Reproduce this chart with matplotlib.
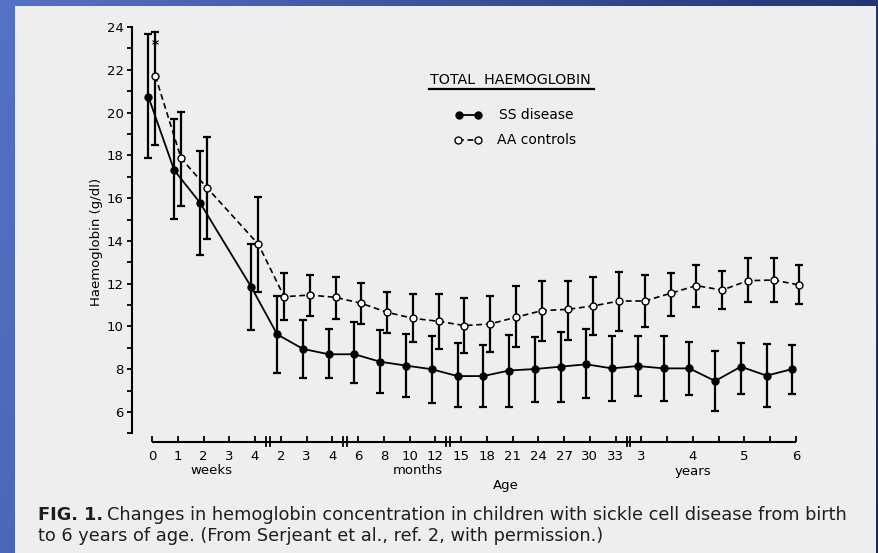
import numpy as np
import matplotlib
matplotlib.use("Agg")
import matplotlib.pyplot as plt
from matplotlib.patches import Rectangle
from matplotlib.lines import Line2D
from matplotlib.transforms import blended_transform_factory

# ---------------------------------------------------------------- data
# Age axis: one evenly spaced slot per tick (weeks, months, years)
age_tick_labels = ["0", "1", "2", "3", "4",
                   "2", "3", "4",
                   "6", "8", "10", "12",
                   "15", "18", "21", "24", "27", "30", "33",
                   "3", "", "4", "", "5", "", "6"]
age_unit_names = ["weeks", "months", "years"]
age_unit_slots = [2.3, 10.3, 21.0]
age_groups = [(0, 4), (5, 7), (8, 11), (12, 18), (19, 25)]

# slots at which both groups were sampled (no 3-week sample)
sample_slots = [0, 1, 2, 4, 5, 6, 7, 8, 9, 10, 11, 12, 13, 14, 15,
                16, 17, 18, 19, 20, 21, 22, 23, 24, 25]

# SS disease: mean and error-bar ends (g/dl)
ss_mean = [20.74, 17.31, 15.79, 11.83, 9.63, 8.95, 8.70, 8.70, 8.35, 8.17,
           8.00, 7.68, 7.68, 7.94, 8.01, 8.12, 8.23, 8.04, 8.15, 8.04,
           8.04, 7.45, 8.12, 7.70, 8.01]
ss_low = [17.86, 15.02, 13.34, 9.83, 7.81, 7.57, 7.57, 7.38, 6.88, 6.69,
          6.41, 6.25, 6.25, 6.25, 6.45, 6.48, 6.67, 6.53, 6.75, 6.51,
          6.80, 6.05, 6.84, 6.22, 6.84]
ss_high = [23.66, 19.70, 18.20, 13.84, 11.42, 10.30, 9.90, 10.19, 9.83, 9.63,
           9.55, 9.21, 9.13, 9.60, 9.49, 9.72, 9.88, 9.55, 9.55, 9.55,
           9.26, 8.87, 9.24, 9.18, 9.13]

# AA controls: mean and error-bar ends (g/dl)
aa_mean = [21.71, 17.86, 16.49, 13.84, 11.39, 11.47, 11.36, 11.08, 10.66, 10.38,
           10.24, 10.04, 10.12, 10.43, 10.74, 10.80, 10.96, 11.19, 11.19, 11.55,
           11.91, 11.70, 12.14, 12.17, 11.94]
aa_low = [18.48, 15.65, 14.09, 11.63, 10.30, 10.49, 10.35, 10.11, 9.68, 9.29,
          8.95, 8.74, 8.79, 9.03, 9.34, 9.37, 9.60, 9.79, 9.96, 10.50,
          10.89, 10.80, 11.16, 11.16, 11.05]
aa_high = [23.78, 20.01, 18.84, 16.04, 12.48, 12.41, 12.33, 12.05, 11.63, 11.50,
           11.50, 11.32, 11.44, 11.87, 12.13, 12.13, 12.30, 12.56, 12.41, 12.48,
           12.87, 12.61, 13.19, 13.19, 12.87]
aa_birth_star = 23.15  # value flagged with an asterisk at birth

y_major = list(range(6, 25, 2))
y_minor = list(range(5, 25, 2))

title_text = "TOTAL  HAEMOGLOBIN"
ss_label = "SS disease"
aa_label = "AA controls"
y_label = "Haemoglobin (g/dl)"
x_label = "Age"
caption_bold = "FIG. 1."
caption_1 = ("Changes in hemoglobin concentration in children with sickle "
             "cell disease from birth")
caption_2 = "to 6 years of age. (From Serjeant et al., ref. 2, with permission.)"

# ---------------------------------------------------------------- layout
W, H = 879, 553
fig = plt.figure(figsize=(W / 100, H / 100), dpi=100)


def fx(px):
    return px / W


def fy(py):
    return 1 - py / H


plt.rcParams["font.family"] = ["DejaVu Sans"]

# slide background with a blue gradient and the light page on top
bg = fig.add_axes([0, 0, 1, 1])
bg.set_zorder(-5)
gx = np.linspace(0, 1, 300)
gy = np.linspace(0, 1, 60)
GX, GY = np.meshgrid(gx, gy)
c_left = np.array([84, 114, 198]) / 255
c_right = np.array([26, 42, 100]) / 255
t = np.clip(GX * 0.85 + GY * 0.15, 0, 1)[..., None]
grad = c_left * (1 - t) + c_right * t
bg.imshow(grad, extent=[0, 1, 0, 1], aspect="auto", origin="upper")
bg.add_patch(Rectangle((fx(15), 0), fx(876) - fx(15), fy(6), transform=bg.transAxes,
                       facecolor="#eeeeee", edgecolor="none"))
bg.set_xlim(0, 1)
bg.set_ylim(0, 1)
bg.axis("off")

# main plot area
px_left, px_right, px_top, px_bottom = 132, 820, 27, 442
slot0_px, slot_px = 152, 25.76
y_top_val, y_px_per_unit = 24.0, 21.39
ax = fig.add_axes([fx(px_left), fy(px_bottom), fx(px_right) - fx(px_left),
                   fy(px_top) - fy(px_bottom)])
ax.set_facecolor("none")
ax.set_xlim((px_left - slot0_px) / slot_px, (px_right - slot0_px) / slot_px)
ax.set_ylim(y_top_val - (px_bottom - px_top) / y_px_per_unit, y_top_val)

for side in ["top", "right", "bottom"]:
    ax.spines[side].set_visible(False)
ax.spines["left"].set_bounds(5, 24)
ax.spines["left"].set_linewidth(1.5)

ax.set_yticks(y_major)
ax.set_yticks(y_minor, minor=True)
ax.tick_params(axis="y", which="both", direction="out", length=3.6, width=1.3,
               pad=2.5, labelsize=9.5)

slots = np.arange(len(age_tick_labels))
ax.set_xticks(slots)
ax.set_xticklabels(age_tick_labels)
ax.tick_params(axis="x", which="major", direction="in", length=4, width=1.3,
               pad=6, labelsize=9.5)

# broken age axis
tb = blended_transform_factory(ax.transData, ax.transAxes)
ax.plot([slots[0], slots[-1]], [0, 0], color="black", lw=1.5, transform=tb,
        clip_on=False, solid_capstyle="butt")
for (a0, a1), (b0, b1) in zip(age_groups[:-1], age_groups[1:]):
    mid = (a1 + b0) / 2
    for d in (-0.07, 0.07):
        ax.plot([mid + d, mid + d], [-0.010, 0.012], color="black", lw=1.3,
                transform=tb, clip_on=False)

# offsets so the two groups' bars sit side by side
ss_x = np.array(sample_slots) - 0.14
aa_x = np.array(sample_slots) + 0.13

ss_m = np.array(ss_mean)
aa_m = np.array(aa_mean)
ax.errorbar(ss_x, ss_m, yerr=[ss_m - np.array(ss_low), np.array(ss_high) - ss_m],
            fmt="none", ecolor="black", elinewidth=1.6, capsize=2.6,
            capthick=1.6, clip_on=False, zorder=3)
ax.errorbar(aa_x, aa_m, yerr=[aa_m - np.array(aa_low), np.array(aa_high) - aa_m],
            fmt="none", ecolor="black", elinewidth=1.6, capsize=2.6,
            capthick=1.6, clip_on=False, zorder=3)
ax.plot(ss_x, ss_m, "-", color="black", lw=1.3, marker="o", ms=5,
        mfc="black", mec="black", clip_on=False, zorder=4)
ax.plot(aa_x, aa_m, color="black", lw=1.2, ls=(0, (3.5, 2.2)), marker="o", ms=5,
        mfc="white", mec="black", mew=1.0, clip_on=False, zorder=4)
ax.text(aa_x[0], aa_birth_star, "*", ha="center", va="center", fontsize=10,
        fontweight="bold", zorder=5)

# axis words
fig.text(fx(97), fy(242), y_label, rotation=90, ha="center", va="center",
         fontsize=9.5)
trans_words = blended_transform_factory(ax.transData, fig.transFigure)
for name, pos in zip(age_unit_names, age_unit_slots):
    fig.text(pos, fy(471), name, transform=trans_words, ha="center",
             va="center", fontsize=9.5)
fig.text(fx(506), fy(485), x_label, ha="center", va="center", fontsize=9.5)

# key
fig.text(fx(430), fy(80), title_text, ha="left", va="center", fontsize=10.3)
fig.add_artist(Line2D([fx(429), fx(594)], [fy(88.5), fy(88.5)], color="black",
                      lw=1.6, transform=fig.transFigure))
fig.add_artist(Line2D([fx(459), fx(478)], [fy(115), fy(115)], color="black",
                      lw=1.3, marker="o", ms=5, mfc="black", mec="black",
                      transform=fig.transFigure))
fig.text(fx(499), fy(115), ss_label, ha="left", va="center", fontsize=10)
fig.add_artist(Line2D([fx(458), fx(478)], [fy(140), fy(140)], color="black",
                      lw=1.2, ls=(0, (3.5, 2.2)), marker="o", ms=5, mfc="white",
                      mec="black", mew=1.0, transform=fig.transFigure))
fig.text(fx(497), fy(140), aa_label, ha="left", va="center", fontsize=10)

# caption
cap_color = "#1e1e1e"
cap_size = 12.8
fig.text(fx(38), fy(520), caption_bold, ha="left", va="baseline",
         fontsize=cap_size, fontweight="bold", color=cap_color)
fig.text(fx(107), fy(520), caption_1, ha="left", va="baseline",
         fontsize=cap_size, color=cap_color)
fig.text(fx(38), fy(541), caption_2, ha="left", va="baseline",
         fontsize=cap_size, color=cap_color)

fig.savefig("out.png", dpi=100)
